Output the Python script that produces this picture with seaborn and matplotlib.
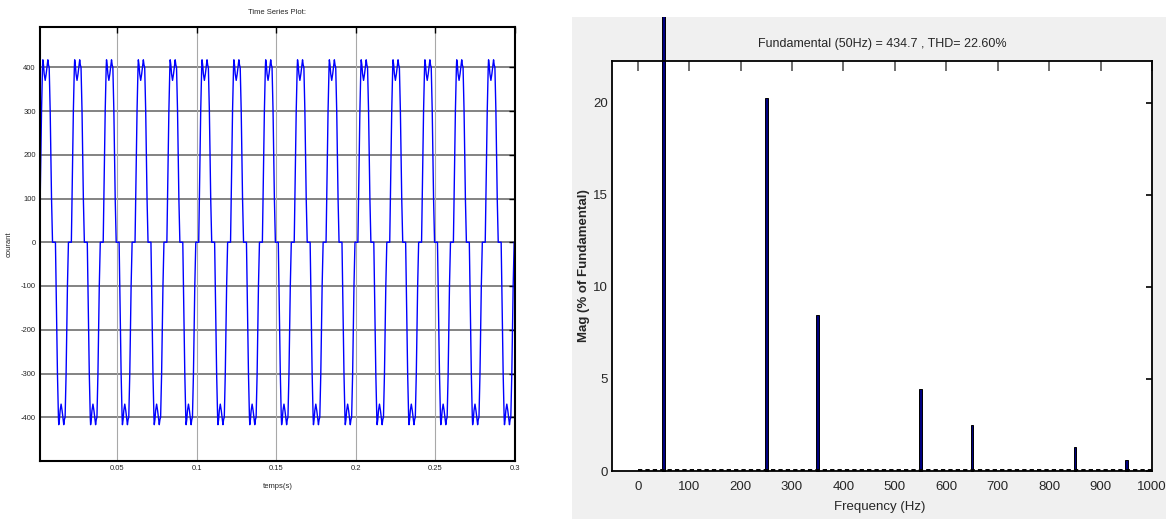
import numpy as np
import pandas as pd
import matplotlib
matplotlib.use("Agg")
import matplotlib.pyplot as plt
import seaborn as sns
from matplotlib.patches import Rectangle

# ---------------- data ----------------
# one period (20 ms) of the line current
# times in ms measured from the start of the positive rise
pos_ms = [0.0, 0.42, 0.84, 1.26, 1.88, 2.09, 2.51, 2.93, 3.56, 4.19, 4.82, 5.23, 5.65, 6.07, 6.70, 7.12, 7.54, 8.17]
pos_val = [0, 100, 200, 300, 400, 417, 405, 385, 370, 385, 405, 417, 405, 400, 300, 200, 100, 0]
neg_ms = [10.0, 10.42, 10.84, 11.26, 11.88, 12.09, 12.51, 12.93, 13.56, 14.19, 14.82, 15.23, 15.65, 16.07, 16.70, 17.12, 17.54, 18.17]
neg_val = [0, -100, -200, -300, -400, -417, -405, -385, -370, -385, -405, -417, -405, -400, -300, -200, -100, 0]
period_ms = 20.0
phase_ms = 1.3
n_cycles = 15

time_ticks = [0.05, 0.1, 0.15, 0.2, 0.25, 0.3]
time_ticklabels = ["0.05", "0.1", "0.15", "0.2", "0.25", "0.3"]
current_ticks = [-400, -300, -200, -100, 0, 100, 200, 300, 400]

harm_freq = [50, 250, 350, 550, 650, 850, 950]
harm_mag = [100.0, 20.25, 8.5, 4.48, 2.52, 1.30, 0.58]
freq_ticks = [0, 100, 200, 300, 400, 500, 600, 700, 800, 900, 1000]
mag_ticks = [0, 5, 10, 15, 20]
spec_title = "Fundamental (50Hz) = 434.7 , THD= 22.60%"

# ---------------- build series ----------------
cyc_ms = np.array(pos_ms + neg_ms)
cyc_val = np.array(pos_val + neg_val, dtype=float)
t_list, v_list = [], []
for k in range(-1, n_cycles + 1):
    t_list.append((phase_ms + k * period_ms + cyc_ms) / 1000.0)
    v_list.append(cyc_val)
ts = pd.DataFrame({"t": np.concatenate(t_list), "i": np.concatenate(v_list)})

spec = pd.DataFrame({"f": harm_freq, "m": harm_mag})

# ---------------- figure ----------------
sns.set_theme(style="white")
plt.rcParams["font.family"] = ["Liberation Sans", "DejaVu Sans"]

W, H = 1166, 519
fig = plt.figure(figsize=(W / 100, H / 100), dpi=100)
fig.patch.set_facecolor("white")

def fr(x0, y0, x1, y1):
    return [x0 / W, 1 - y1 / H, (x1 - x0) / W, (y1 - y0) / H]

# ---- left: time series ----
ax1 = fig.add_axes(fr(40, 27, 515, 461))
sns.lineplot(data=ts, x="t", y="i", ax=ax1, color="#0000ff", lw=1.0,
             sort=False, estimator=None)
ax1.set_xlim(0.0016, 0.3)
ax1.set_ylim(-500, 492)
ax1.set_xticks(time_ticks)
ax1.set_xticklabels(time_ticklabels)
ax1.set_yticks(current_ticks)
ax1.set_yticklabels([str(v) for v in current_ticks])
for y in current_ticks:
    ax1.axhline(y, color="#7a7a7a", lw=1.3, zorder=0)
for x in time_ticks:
    ax1.axvline(x, color="#a8a8a8", lw=0.8, zorder=0)
ax1.tick_params(axis="both", which="both", direction="in", length=4, width=1,
                labelsize=5.5, top=True, right=True, color="black", pad=3)
for s in ax1.spines.values():
    s.set_color("black")
    s.set_linewidth(1.5)
ax1.set_title("Time Series Plot:", fontsize=5.5, pad=9)
ax1.set_xlabel("temps(s)", fontsize=5.5, labelpad=8)
ax1.yaxis.set_label_coords(-0.058, 0.5)
ax1.set_ylabel("courant", fontsize=5.5)

# ---- right: spectrum ----
panel = Rectangle((572 / W, 0), (W - 572) / W, (H - 17) / H, transform=fig.transFigure,
                  facecolor="#f0f0f0", edgecolor="none", zorder=-10)
fig.patches.append(panel)

ax2 = fig.add_axes(fr(612, 61, 1152, 471))
ax2.set_facecolor("white")
sns.barplot(data=spec, x="f", y="m", ax=ax2, native_scale=True, width=0.05,
            color="#000080", saturation=1, edgecolor="black", linewidth=0.7)
ax2.hlines(0.06, 0, 1000, colors="black", linestyles=(0, (2.2, 1.6)), lw=1.4, zorder=3)
ax2.set_xlim(-50, 1000)
ax2.set_ylim(0, 22.27)
ax2.set_xticks(freq_ticks)
ax2.set_xticklabels([str(v) for v in freq_ticks])
ax2.set_yticks(mag_ticks)
ax2.set_yticklabels([str(v) for v in mag_ticks])
ax2.tick_params(axis="x", direction="in", length=7, width=1.2, color="#555555",
                labelsize=9.5, top=True, pad=7)
ax2.tick_params(axis="y", direction="in", length=4, width=1.2, color="black",
                labelsize=9.5, right=True, pad=3)
for s in ax2.spines.values():
    s.set_color("black")
    s.set_linewidth(1.3)
ax2.set_title(spec_title, fontsize=9, pad=10)
ax2.set_xlabel("Frequency (Hz)", fontsize=9.5)
ax2.xaxis.set_label_coords((880 - 612) / 540, -(507 - 471) / 410)
ax2.xaxis.label.set_va("center")
ax2.set_ylabel("Mag (% of Fundamental)", fontsize=9.5, fontweight="bold")
ax2.yaxis.set_label_coords(-(612 - 584) / 540, 0.5)
ax2.yaxis.label.set_va("center")

for p in ax2.patches:
    p.set_clip_on(True)
    p.set_clip_path(panel)

fig.savefig("out.png", dpi=100, facecolor="white")
